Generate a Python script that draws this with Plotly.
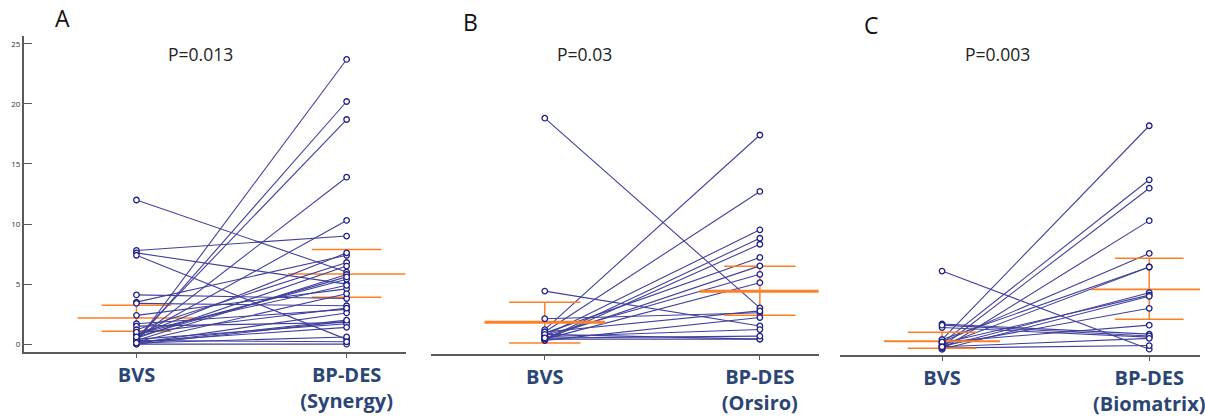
import plotly.graph_objects as go

# ---------------- data ----------------
groups = ["BVS", "BP-DES"]
tick_A = ["BVS", "BP-DES<br>(Synergy)"]
tick_B = ["BVS", "BP-DES<br>(Orsiro)"]
tick_C = ["BVS", "BP-DES<br>(Biomatrix)"]
y_ticks_A = [0, 5, 10, 15, 20, 25]

A_bvs = [12.0, 7.8, 7.6, 7.4, 4.1, 3.5, 3.4, 2.4, 1.7, 1.5, 1.2, 0.8, 0.6, 0.5, 0.4, 0.3,
         0.2, 0.7, 0.5, 0.3, 0.2, 0.1, 0.0, 0.4, 0.2, 0.1, 0.0, 0.3, 0.9, 1.0, 0.6, 0.1]
A_bp = [6.0, 9.0, 5.0, 0.4, 3.8, 7.4, 3.2, 4.6, 2.9, 1.8, 6.8, 5.4, 10.3, 18.7, 13.9, 20.2,
        23.7, 7.6, 6.5, 5.8, 4.2, 2.6, 1.9, 1.7, 1.4, 0.6, 0.0, 0.2, 3.0, 4.9, 5.6, 2.0]

B_bvs = [18.9, 4.5, 2.2, 1.3, 1.1, 0.8, 0.5, 0.4, 1.0, 0.6, 0.8, 0.5, 1.1, 0.4, 0.7, 0.9, 0.5, 0.6]
B_bp = [3.1, 1.6, 2.7, 17.5, 12.8, 9.6, 8.9, 8.4, 7.3, 6.6, 5.9, 5.2, 2.85, 2.3, 1.3, 0.5, 0.5, 0.75]

C_bvs = [6.5, 2.1, 1.8, 0.8, 0.5, 0.2, 0.0, 0.6, 0.3, 0.8, 0.2, 0.5, 0.0, 0.3, 0.6, 0.1, 2.0, 0.2]
C_bp = [0.0, 1.25, 1.0, 18.6, 14.1, 13.4, 10.7, 7.97, 6.84, 6.84, 4.7, 4.5, 4.4, 3.4, 2.0, 0.3, 1.1, 0.9]

# summary lines (upper, median, lower) for each group
A_sum_bvs = [3.24, 2.18, 1.08]
A_sum_bp = [7.89, 5.84, 3.90]
B_sum_bvs = [3.57, 1.91, 0.17]
B_sum_bp = [6.56, 4.49, 2.49]
C_sum_bvs = [1.41, 0.66, 0.08]
C_sum_bp = [7.56, 4.98, 2.49]

p_values = ["P=0.013", "P=0.03", "P=0.003"]
panel_letters = ["A", "B", "C"]

# ---------------- style ----------------
LINE_C = "#40409c"
MARK_C = "#1e1e86"
ORANGE = "#ff7f27"
AXIS_C = "#5a5a5a"
LABEL_C = "#2b4675"

W, H = 1205, 417

fig = go.Figure()


def pair_trace(bvs, bp, xa, ya):
    xs, ys = [], []
    for a, b in zip(bvs, bp):
        xs += [0, 1, None]
        ys += [a, b, None]
    return go.Scatter(x=xs, y=ys, mode="lines", line=dict(color=LINE_C, width=1.1),
                      xaxis=xa, yaxis=ya, hoverinfo="skip", showlegend=False)


def marker_trace(bvs, bp, xa, ya):
    xs = [0] * len(bvs) + [1] * len(bp)
    ys = list(bvs) + list(bp)
    return go.Scatter(x=xs, y=ys, mode="markers",
                      marker=dict(symbol="circle", size=5.5, color="white",
                                  line=dict(color=MARK_C, width=1.3)),
                      xaxis=xa, yaxis=ya, showlegend=False)


def summary_traces(x0, vals, xa, ya, med_w):
    up, med, lo = vals
    qh, mh = 0.166, 0.28
    traces = []
    xs = [x0 - qh, x0 + qh, None, x0 - qh, x0 + qh, None, x0, x0, None]
    ys = [up, up, None, lo, lo, None, up, lo, None]
    traces.append(go.Scatter(x=xs, y=ys, mode="lines", line=dict(color=ORANGE, width=1.5),
                             xaxis=xa, yaxis=ya, hoverinfo="skip", showlegend=False))
    traces.append(go.Scatter(x=[x0 - mh, x0 + mh], y=[med, med], mode="lines",
                             line=dict(color=ORANGE, width=med_w),
                             xaxis=xa, yaxis=ya, hoverinfo="skip", showlegend=False))
    return traces


# Panel A (orange under blue lines)
for t in summary_traces(0, A_sum_bvs, "x", "y", 1.5) + summary_traces(1, A_sum_bp, "x", "y", 1.5):
    fig.add_trace(t)
fig.add_trace(pair_trace(A_bvs, A_bp, "x", "y"))
fig.add_trace(marker_trace(A_bvs, A_bp, "x", "y"))

# Panel B
fig.add_trace(pair_trace(B_bvs, B_bp, "x2", "y2"))
for t in summary_traces(0, B_sum_bvs, "x2", "y2", 3) + summary_traces(1, B_sum_bp, "x2", "y2", 3):
    fig.add_trace(t)
fig.add_trace(marker_trace(B_bvs, B_bp, "x2", "y2"))

# Panel C
fig.add_trace(pair_trace(C_bvs, C_bp, "x3", "y3"))
for t in summary_traces(0, C_sum_bvs, "x3", "y3", 1.8) + summary_traces(1, C_sum_bp, "x3", "y3", 1.8):
    fig.add_trace(t)
fig.add_trace(marker_trace(C_bvs, C_bp, "x3", "y3"))


def px_x(p):
    return p / W


def px_y(p):
    return 1 - p / H


xaxis_common = dict(showline=True, linecolor=AXIS_C, linewidth=2, showgrid=False,
                    zeroline=False, ticks="outside", ticklen=4, tickcolor=AXIS_C,
                    tickvals=[0, 1], ticklabelstandoff=0, ticklabeloverflow="allow",
                    tickfont=dict(family="Open Sans", size=20, color=LABEL_C, weight="bold"))

fig.update_layout(
    width=W, height=H, margin=dict(l=0, r=0, t=0, b=0),
    paper_bgcolor="white", plot_bgcolor="white", showlegend=False,
    xaxis=dict(**xaxis_common, domain=[px_x(24), px_x(408)], range=[-0.5355, 1.284],
               ticktext=tick_A, anchor="y"),
    yaxis=dict(domain=[px_y(353), px_y(36)], range=[-0.664, 25.66], showline=True,
               linecolor=AXIS_C, linewidth=2, showgrid=False, zeroline=False,
               ticks="inside", ticklen=8, tickcolor=AXIS_C, tickvals=y_ticks_A,
               tickfont=dict(family="Open Sans", size=8, color="#333"), anchor="x"),
    xaxis2=dict(**xaxis_common, domain=[px_x(433), px_x(822)], range=[-0.528, 1.273],
                ticktext=tick_B, anchor="y2"),
    yaxis2=dict(domain=[px_y(355), px_y(36)], range=[-0.75, 25.75], visible=False, anchor="x2"),
    xaxis3=dict(**xaxis_common, domain=[px_x(843), 1.0], range=[-0.495, 1.245],
                ticktext=tick_C, anchor="y3"),
    yaxis3=dict(domain=[px_y(356), px_y(36)], range=[-0.498, 26.08], visible=False, anchor="x3"),
)

letter_pos = [(63, 18), (472, 22), (875, 25)]
p_pos = [(201, 54), (587, 54), (1002, 54)]
for txt, (x, y) in zip(panel_letters, letter_pos):
    fig.add_annotation(text=txt, x=px_x(x), y=px_y(y), xref="paper", yref="paper",
                       showarrow=False, xanchor="center", yanchor="middle",
                       font=dict(family="Open Sans", size=23, color="#111"))
for txt, (x, y) in zip(p_values, p_pos):
    fig.add_annotation(text=txt, x=px_x(x), y=px_y(y), xref="paper", yref="paper",
                       showarrow=False, xanchor="center", yanchor="middle",
                       font=dict(family="Open Sans", size=17.5, color="#222"))

fig.write_html("out.html", config={"displayModeBar": False},
               post_script="document.body.style.margin='0';document.body.style.overflow='hidden';")
